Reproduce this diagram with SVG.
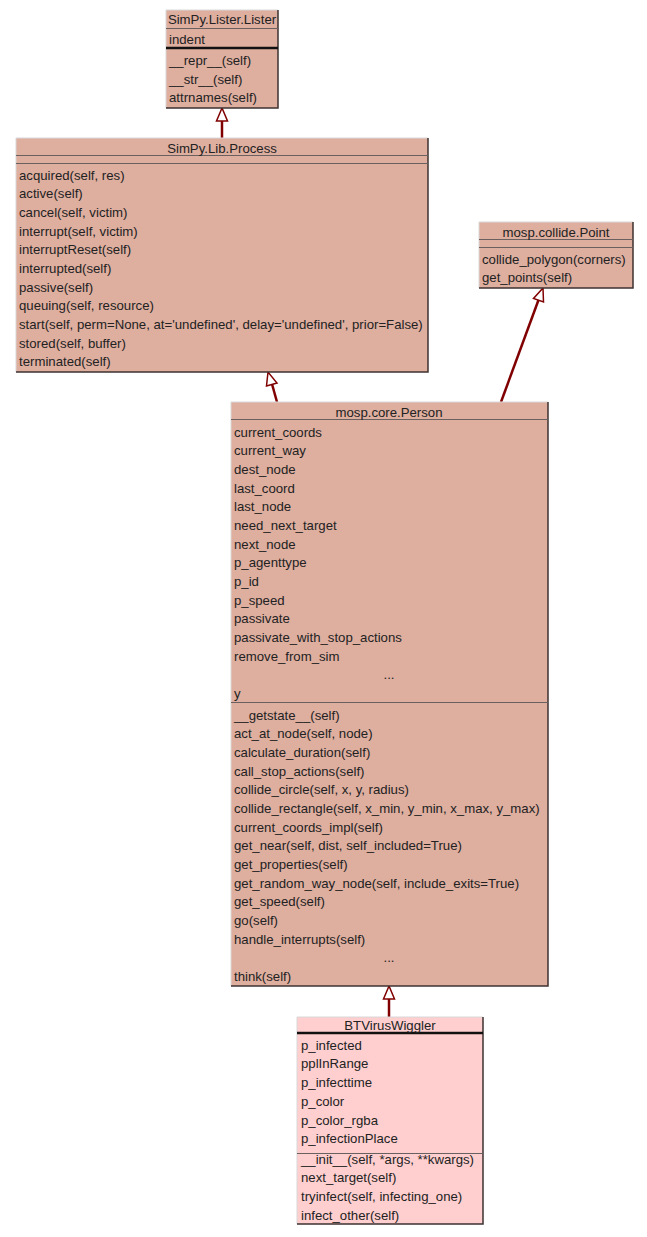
<svg xmlns="http://www.w3.org/2000/svg" width="647" height="1237" viewBox="0 0 647 1237">
<defs>
<style>
text{font-family:"Liberation Sans",Arial,sans-serif;font-size:13.2px;fill:#222}
.c{text-anchor:middle}
.box{fill:#deae9f;stroke:none}
.pink{fill:#ffcfcf;stroke:none}
.tl{stroke:#d8d8d8;stroke-width:1;fill:none}
.br{stroke:#3e3232;stroke-width:1.5;fill:none}
.sep{stroke:#6a6060;stroke-width:1}
.thick{stroke:#111;stroke-width:2.5}
.edge{stroke:#800000;stroke-width:2.5;fill:none}
.head{fill:#fff;stroke:#800000;stroke-width:1.5}
</style>
</defs>
<rect width="647" height="1237" fill="#fff"/>
<g id="connectors">
<line class="edge" x1="222" y1="138" x2="222" y2="121"/>
<polygon class="head" points="222,108 216.5,121 227.5,121"/>
<line class="edge" x1="277" y1="402" x2="272" y2="384"/>
<polygon class="head" points="268,372 266.5,386 277,383"/>
<line class="edge" x1="501" y1="402" x2="538.5" y2="300"/>
<polygon class="head" points="543,288 533.5,298.5 543.5,302"/>
<line class="edge" x1="389" y1="1017" x2="389" y2="999"/>
<polygon class="head" points="389,986 383.5,999 394.5,999"/>
</g>
<g id="lister">
<rect class="box" x="166" y="10" width="112" height="98"/>
<path class="tl" d="M166,108V10H278"/>
<path class="br" d="M278,10V108H166"/>
<line class="sep" x1="166" y1="28.5" x2="278" y2="28.5"/>
<line class="thick" x1="166" y1="48" x2="278" y2="48"/>
<text class="c" x="222" y="24">SimPy.Lister.Lister</text>
<text x="169" y="43.5">indent</text>
<text x="169" y="65">__repr__(self)</text>
<text x="169" y="83.5">__str__(self)</text>
<text x="169" y="102">attrnames(self)</text>
</g>
<g id="process">
<rect class="box" x="16" y="138" width="412" height="234"/>
<path class="tl" d="M16,372V138H428"/>
<path class="br" d="M428,138V372H16"/>
<line class="sep" x1="16" y1="155.5" x2="428" y2="155.5"/>
<line class="sep" x1="16" y1="163.5" x2="428" y2="163.5"/>
<text class="c" x="222" y="152.5">SimPy.Lib.Process</text>
<text x="19" y="179.5">acquired(self, res)</text>
<text x="19" y="198">active(self)</text>
<text x="19" y="216.5">cancel(self, victim)</text>
<text x="19" y="235.5">interrupt(self, victim)</text>
<text x="19" y="254">interruptReset(self)</text>
<text x="19" y="272.5">interrupted(self)</text>
<text x="19" y="291.5">passive(self)</text>
<text x="19" y="310">queuing(self, resource)</text>
<text x="19" y="329">start(self, perm=None, at='undefined', delay='undefined', prior=False)</text>
<text x="19" y="347.5">stored(self, buffer)</text>
<text x="19" y="366">terminated(self)</text>
</g>
<g id="point">
<rect class="box" x="479" y="222" width="154" height="66"/>
<path class="tl" d="M479,288V222H633"/>
<path class="br" d="M633,222V288H479"/>
<line class="sep" x1="479" y1="239.5" x2="633" y2="239.5"/>
<line class="sep" x1="479" y1="247.5" x2="633" y2="247.5"/>
<text class="c" x="556" y="236.5">mosp.collide.Point</text>
<text x="482" y="263.5">collide_polygon(corners)</text>
<text x="482" y="281.5">get_points(self)</text>
</g>
<g id="person">
<rect class="box" x="231" y="402" width="317" height="584"/>
<path class="tl" d="M231,986V402H548"/>
<path class="br" d="M548,402V986H231"/>
<line class="sep" x1="231" y1="419.5" x2="548" y2="419.5"/>
<line class="sep" x1="231" y1="702.5" x2="548" y2="702.5"/>
<text class="c" x="389" y="416.5">mosp.core.Person</text>
<text x="234" y="436.5">current_coords</text>
<text x="234" y="455.2">current_way</text>
<text x="234" y="473.8">dest_node</text>
<text x="234" y="492.5">last_coord</text>
<text x="234" y="511.1">last_node</text>
<text x="234" y="529.8">need_next_target</text>
<text x="234" y="548.5">next_node</text>
<text x="234" y="567.1">p_agenttype</text>
<text x="234" y="585.8">p_id</text>
<text x="234" y="604.5">p_speed</text>
<text x="234" y="623.1">passivate</text>
<text x="234" y="641.8">passivate_with_stop_actions</text>
<text x="234" y="660.5">remove_from_sim</text>
<text class="c" x="389" y="679.1">...</text>
<text x="234" y="697.8">y</text>
<text x="234" y="719.5">__getstate__(self)</text>
<text x="234" y="738.1">act_at_node(self, node)</text>
<text x="234" y="756.8">calculate_duration(self)</text>
<text x="234" y="775.5">call_stop_actions(self)</text>
<text x="234" y="794.1">collide_circle(self, x, y, radius)</text>
<text x="234" y="812.8">collide_rectangle(self, x_min, y_min, x_max, y_max)</text>
<text x="234" y="831.5">current_coords_impl(self)</text>
<text x="234" y="850.1">get_near(self, dist, self_included=True)</text>
<text x="234" y="868.8">get_properties(self)</text>
<text x="234" y="887.5">get_random_way_node(self, include_exits=True)</text>
<text x="234" y="906.1">get_speed(self)</text>
<text x="234" y="924.8">go(self)</text>
<text x="234" y="943.5">handle_interrupts(self)</text>
<text class="c" x="389" y="962.1">...</text>
<text x="234" y="980.8">think(self)</text>
</g>
<g id="btviruswiggler">
<rect class="pink" x="297" y="1017" width="186" height="207"/>
<path class="tl" d="M297,1224V1017H483"/>
<path class="br" d="M483,1017V1224H297"/>
<line class="thick" x1="297" y1="1033" x2="483" y2="1033"/>
<line class="sep" x1="297" y1="1153.5" x2="483" y2="1153.5"/>
<text class="c" x="390" y="1030">BTVirusWiggler</text>
<text x="301" y="1049.5">p_infected</text>
<text x="301" y="1068">pplInRange</text>
<text x="301" y="1087">p_infecttime</text>
<text x="301" y="1105.5">p_color</text>
<text x="301" y="1124.5">p_color_rgba</text>
<text x="301" y="1143">p_infectionPlace</text>
<text x="301" y="1163.5">__init__(self, *args, **kwargs)</text>
<text x="301" y="1182">next_target(self)</text>
<text x="301" y="1201">tryinfect(self, infecting_one)</text>
<text x="301" y="1219.5">infect_other(self)</text>
</g>
</svg>
